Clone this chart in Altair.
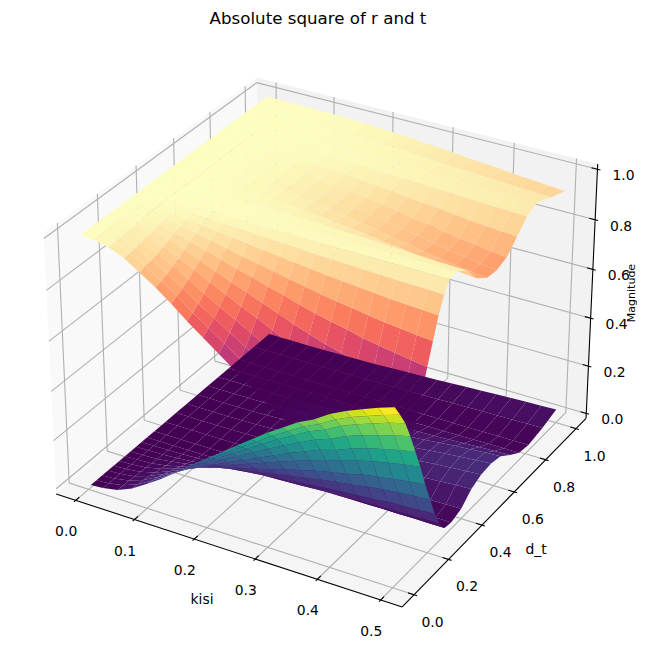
import numpy as np
import altair as alt

kisi = [.004,.025,.05,.075,.1,.125,.15,.175,.2,.225,.25,.275,.3,.325,.35,.375,.4,.425,.45,.475,.5]
d_t = [0,.03,.06,.09,.12,.15,.18,.21,.24,.27,.30,.34,.40,.46,.52,.58,.64,.70,.76,.82,.91,1.0]
T = [
[0,.004,.016,.042,.08,.12,.165,.215,.26,.305,.35,.395,.44,.48,.52,.55,.59,.62,.645,.67,.69],
[0,.004,.015,.039,.074,.112,.153,.2,.242,.284,.326,.367,.409,.446,.484,.512,.549,.577,.6,.623,.642],
[0,.003,.014,.036,.068,.103,.141,.184,.222,.261,.299,.338,.376,.41,.445,.47,.504,.53,.551,.573,.59],
[0,.003,.012,.032,.06,.09,.124,.162,.196,.23,.264,.298,.332,.362,.392,.415,.445,.467,.486,.505,.52],
[0,.003,.01,.027,.051,.077,.105,.137,.166,.195,.223,.252,.281,.306,.332,.351,.376,.396,.412,.427,.44],
[0,.002,.008,.022,.042,.063,.086,.112,.136,.159,.183,.206,.23,.251,.271,.287,.308,.324,.337,.35,.36],
[0,.002,.006,.016,.031,.047,.065,.084,.102,.119,.137,.154,.172,.188,.203,.215,.231,.242,.252,.262,.27],
[0,.001,.004,.012,.022,.033,.045,.059,.072,.084,.096,.109,.121,.132,.143,.151,.162,.171,.177,.184,.19],
[0,.001,.003,.007,.013,.019,.026,.034,.042,.049,.056,.063,.07,.077,.083,.088,.094,.099,.103,.107,.11],
[0,0,.001,.003,.006,.009,.012,.015,.019,.022,.025,.028,.032,.035,.037,.04,.042,.045,.046,.048,.05],
[0,0,0,.001,.001,.002,.002,.003,.004,.005,.005,.006,.007,.007,.008,.008,.009,.009,.01,.01,.01],
[0,0,0,0,.001,.001,.001,.002,.002,.002,.002,.003,.003,.003,.004,.004,.004,.004,.005,.005,.005],
[0,0,0,0,0,.001,.001,.002,.003,.004,.005,.007,.008,.01,.011,.013,.015,.016,.017,.019,.02],
[0,0,0,0,.001,.002,.003,.006,.009,.012,.015,.02,.024,.029,.034,.038,.044,.048,.052,.057,.06],
[0,0,0,0,.001,.002,.005,.008,.011,.016,.021,.026,.033,.039,.046,.051,.058,.065,.07,.075,.08],
[0,0,0,0,.001,.003,.005,.008,.012,.017,.022,.028,.035,.041,.048,.054,.062,.069,.074,.08,.085],
[0,0,0,0,.001,.002,.004,.007,.011,.015,.019,.025,.031,.036,.043,.048,.055,.061,.066,.071,.075],
[0,0,0,0,.001,.001,.002,.004,.006,.008,.01,.013,.016,.019,.023,.025,.029,.032,.035,.038,.04],
[0,0,0,0,0,0,.001,.001,.001,.002,.003,.003,.004,.005,.006,.006,.007,.008,.009,.009,.01],
[0,0,0,0,0,0,0,0,0,0,.001,.001,.001,.001,.001,.001,.001,.002,.002,.002,.002],
[0,0,0,0,0,0,.001,.001,.002,.003,.004,.005,.006,.007,.009,.01,.011,.012,.013,.014,.015],
[0,0,0,0,0,.001,.002,.003,.005,.007,.009,.011,.014,.017,.02,.022,.026,.028,.031,.033,.035],
]
R = [
[1,.996,.984,.958,.92,.88,.835,.785,.74,.695,.65,.605,.56,.52,.48,.45,.41,.38,.355,.33,.31],
[1,.996,.985,.961,.926,.888,.847,.8,.758,.716,.674,.633,.591,.554,.516,.488,.451,.423,.4,.377,.358],
[1,.997,.986,.964,.932,.897,.859,.816,.778,.739,.701,.662,.624,.59,.555,.53,.496,.47,.449,.427,.41],
[1,.997,.988,.968,.94,.91,.876,.838,.804,.77,.736,.702,.668,.638,.608,.585,.555,.533,.514,.495,.48],
[1,.997,.99,.973,.949,.923,.895,.863,.834,.805,.777,.748,.719,.694,.668,.649,.624,.604,.588,.573,.56],
[1,.998,.992,.978,.958,.937,.914,.888,.864,.841,.817,.794,.77,.749,.729,.713,.692,.676,.663,.65,.64],
[1,.998,.994,.984,.969,.953,.935,.916,.898,.881,.863,.846,.828,.812,.797,.785,.769,.758,.748,.738,.73],
[1,.999,.996,.988,.978,.967,.955,.941,.928,.916,.904,.891,.879,.868,.857,.849,.838,.829,.823,.816,.81],
[1,.999,.997,.993,.987,.981,.974,.966,.958,.951,.944,.937,.93,.923,.917,.912,.906,.901,.897,.893,.89],
[1,1,.999,.997,.994,.991,.988,.985,.981,.978,.975,.972,.968,.965,.963,.96,.958,.955,.954,.952,.95],
[1,1,1,.999,.999,.998,.998,.997,.996,.995,.995,.994,.993,.993,.992,.992,.991,.991,.99,.99,.99],
[1,1,1,1,.999,.999,.999,.998,.998,.998,.998,.997,.997,.997,.996,.996,.996,.996,.995,.995,.995],
[1,1,1,1,1,.999,.998,.997,.995,.993,.991,.989,.986,.983,.98,.978,.974,.972,.969,.967,.965],
[1,1,1,1,.999,.997,.994,.99,.986,.981,.974,.967,.959,.952,.943,.937,.927,.919,.913,.906,.9],
[1,1,1,.999,.998,.996,.992,.987,.981,.974,.965,.956,.945,.935,.923,.914,.901,.891,.882,.873,.865],
[1,1,1,.999,.998,.996,.992,.986,.98,.973,.964,.954,.943,.932,.92,.911,.898,.887,.878,.868,.86],
[1,1,1,1,.998,.996,.993,.988,.982,.976,.968,.959,.949,.94,.929,.921,.909,.899,.891,.882,.875],
[1,1,1,1,.999,.998,.995,.992,.989,.984,.979,.974,.967,.961,.954,.949,.942,.935,.93,.925,.92],
[1,1,1,1,1,.999,.998,.997,.995,.993,.991,.989,.986,.983,.98,.978,.974,.972,.969,.967,.965],
[1,1,1,1,1,1,.999,.999,.998,.997,.996,.995,.994,.993,.991,.99,.989,.988,.987,.986,.985],
[1,1,1,1,.999,.999,.997,.996,.994,.991,.988,.985,.982,.978,.974,.971,.967,.964,.961,.958,.955],
[1,1,1,1,.999,.998,.996,.993,.99,.986,.982,.977,.972,.966,.96,.956,.949,.943,.939,.934,.93],
]

AZ, EL = np.radians(-60), np.radians(30)
XL, YL, ZL = (-.0336,.5336), (-.0672,1.0672), (-.0208,1.0208)
SC, CX, CY = 3330., 326., 329.5
asp = np.array([4,4,3.])*1.8294640721620434*25/24/np.linalg.norm([4,4,3.])
ctr = asp/2
n = np.array([np.cos(EL)*np.cos(AZ), np.cos(EL)*np.sin(AZ), np.sin(EL)])
eye = ctr+10*n
u = np.cross([0,0,1.],n); u/=np.linalg.norm(u)
v_ = np.cross(n,u)
def proj(x,y,z):
    p = np.array([(x-XL[0])/(XL[1]-XL[0])*asp[0],(y-YL[0])/(YL[1]-YL[0])*asp[1],(z-ZL[0])/(ZL[1]-ZL[0])*asp[2]])-eye
    w = -p.dot(n)
    return [float(CX+SC*p.dot(u)/w), float(CY-SC*p.dot(v_)/w)], float(-w)

def line(pts, **props):
    return {"type":"Feature","properties":props,"geometry":{"type":"LineString","coordinates":[proj(*p)[0] for p in pts]}}
def poly(pts, **props):
    c=[proj(*p)[0] for p in pts]; c.append(c[0])
    return {"type":"Feature","properties":props,"geometry":{"type":"Polygon","coordinates":[c]}}
def surface(G):
    out=[]
    for i in range(len(d_t)-1):
        for j in range(len(kisi)-1):
            pts=[(kisi[j],d_t[i],G[i][j]),(kisi[j+1],d_t[i],G[i][j+1]),(kisi[j+1],d_t[i+1],G[i+1][j+1]),(kisi[j],d_t[i+1],G[i+1][j])]
            dep=np.mean([proj(*p)[1] for p in pts])
            out.append((dep,poly(pts,v=float(np.mean([p[2] for p in pts])))))
    out.sort(key=lambda a:a[0])
    return [o[1] for o in out]

x0,x1,y0,y1,z0,z1=XL[0],XL[1],YL[0],YL[1],ZL[0],ZL[1]
PR=dict(type='identity',scale=1,translate=[-8,-38])
panes=[poly([(x0,y0,z0),(x0,y1,z0),(x0,y1,z1),(x0,y0,z1)],c='#f9f9f9'),
       poly([(x0,y1,z0),(x1,y1,z0),(x1,y1,z1),(x0,y1,z1)],c='#f2f2f2'),
       poly([(x0,y0,z0),(x1,y0,z0),(x1,y1,z0),(x0,y1,z0)],c='#f5f5f5')]
kt=[0,.1,.2,.3,.4,.5]; dt=[0,.2,.4,.6,.8,1.0]; zt=[0,.2,.4,.6,.8,1.0]
grid=[line([(k,y0,z0),(k,y1,z0),(k,y1,z1)]) for k in kt]+[line([(x1,d,z0),(x0,d,z0),(x0,d,z1)]) for d in dt]+[line([(x1,y1,z),(x0,y1,z),(x0,y0,z)]) for z in zt]
dx=(x1-x0)/12; dy=(y1-y0)/12
axes=[line([(x0,y0,z0),(x1,y0,z0)]),line([(x1,y0,z0),(x1,y1,z0)]),line([(x1,y1,z0),(x1,y1,z1)])]
axes+=[line([(k,y0+.2*dy,z0),(k,y0-.1*dy,z0)]) for k in kt]
axes+=[line([(x1-.2*dx,d,z0),(x1+.1*dx,d,z0)]) for d in dt]
axes+=[line([(x1-.2*dx,y1,z),(x1+.1*dx,y1,z)]) for z in zt]
labels=[]
for k in kt:
    p=proj(k,y0,z0)[0]; labels.append(dict(x=p[0]-9.5,y=p[1]+32,t=f"{k:.1f}"))
for d in dt:
    p=proj(x1,d,z0)[0]; labels.append(dict(x=p[0]+18.5,y=p[1]+28,t=f"{d:.1f}"))
for z in zt:
    p=proj(x1,y1,z)[0]; labels.append(dict(x=p[0]+26,y=p[1]+7,t=f"{z:.1f}"))
names=[dict(x=202,y=600,t='kisi'),dict(x=536,y=550,t='d_t')]

def G(feats): return alt.Chart(alt.Data(values=feats))
F='DejaVu Sans'
layers=[
 G(panes).mark_geoshape(strokeWidth=0).encode(fill=alt.Fill('properties.c:N',scale=None)).project(**PR),
 G(grid).mark_geoshape(filled=False,stroke='#b0b0b0',strokeWidth=1.1).project(**PR),
 G(axes).mark_geoshape(filled=False,stroke='black',strokeWidth=1.1).project(**PR),
 alt.Chart(alt.Data(values=labels+names)).mark_text(font=F,fontSize=13.9,color='#000').encode(longitude='x:Q',latitude='y:Q',text='t:N').project(**PR),
 alt.Chart(alt.Data(values=[dict(x=632,y=293,t='Magnitude')])).mark_text(font=F,fontSize=11,angle=270,color='#000').encode(longitude='x:Q',latitude='y:Q',text='t:N').project(**PR),
 G(surface(R)).mark_geoshape().encode(color=alt.Color('properties.v:Q',scale=alt.Scale(scheme='magma',domain=[.34,1]),legend=None)).project(**PR),
 G(surface(T)).mark_geoshape().encode(color=alt.Color('properties.v:Q',scale=alt.Scale(scheme='viridis',domain=[0,.66]),legend=None)).project(**PR),
]
chart=alt.layer(*layers).resolve_scale(color='independent').properties(
    width=629,height=612,padding={'left':0,'right':0,'top':30,'bottom':0},autosize=alt.AutoSizeParams(type='none'),
    title=alt.TitleParams('Absolute square of r and t',font=F,fontSize=16.67,fontWeight='normal',anchor='middle',dx=-4.5,offset=10,color='#000')
).configure_view(stroke=None)
chart.save("out.html", embed_options={"renderer": "svg", "actions": False})
